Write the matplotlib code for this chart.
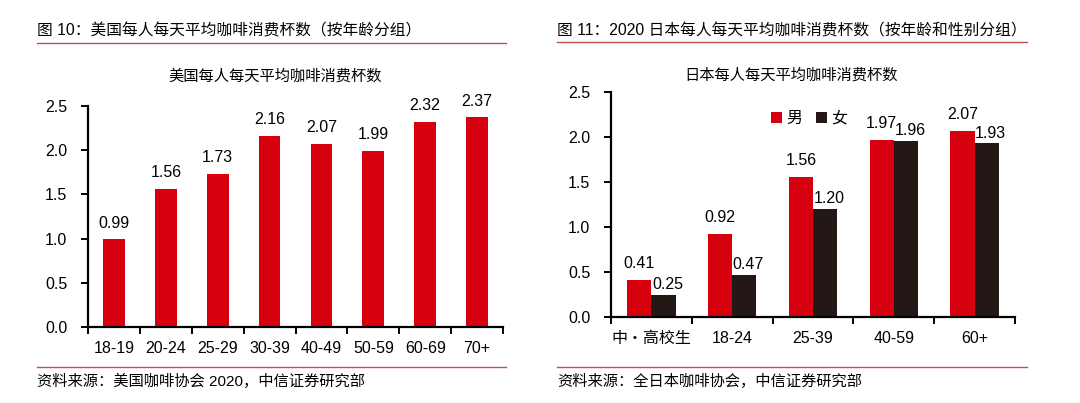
import matplotlib
matplotlib.use('Agg')
import matplotlib.pyplot as plt
import numpy as np

plt.rcParams['font.family'] = ['Liberation Sans', 'Noto Sans CJK SC', 'DejaVu Sans']

# left chart: US
us_ages = ['18-19', '20-24', '25-29', '30-39', '40-49', '50-59', '60-69', '70+']
us_cups = [0.99, 1.56, 1.73, 2.16, 2.07, 1.99, 2.32, 2.37]

# right chart: Japan 2020
jp_ages = ['中・高校生', '18-24', '25-39', '40-59', '60+']
jp_male = [0.41, 0.92, 1.56, 1.97, 2.07]
jp_female = [0.25, 0.47, 1.20, 1.96, 1.93]

RED = '#d7000f'
DARK = '#231815'
LINE = '#c0504d'
FS = 11.5

W, H = 1080, 403
fig = plt.figure(figsize=(W / 100, H / 100), dpi=100)


def px(x0, y_top, x1, y_bot):
    return [x0 / W, 1 - y_bot / H, (x1 - x0) / W, (y_bot - y_top) / H]


def style(ax):
    for s in ['top', 'right']:
        ax.spines[s].set_visible(False)
    for s in ['left', 'bottom']:
        ax.spines[s].set_linewidth(1.6)
        ax.spines[s].set_color('black')
    ax.set_ylim(0, 2.5)
    ax.set_yticks(np.arange(0, 2.51, 0.5))
    ax.set_yticklabels(['%.1f' % v for v in np.arange(0, 2.51, 0.5)])
    ax.tick_params(axis='both', direction='out', width=1.4, length=5, labelsize=FS)
    ax.tick_params(axis='y', pad=10)


# header lines / text
fig.text(37 / W, 1 - 31 / H, '图 10：美国每人每天平均咖啡消费杯数（按年龄分组）', fontsize=11.3, va='center')
fig.text(557 / W, 1 - 31 / H, '图 11：2020 日本每人每天平均咖啡消费杯数（按年龄和性别分组）', fontsize=11.3, va='center')
fig.add_artist(plt.Line2D([37 / W, 506 / W], [1 - 43 / H] * 2, color=LINE, lw=1))
fig.add_artist(plt.Line2D([557 / W, 1027 / W], [1 - 42 / H] * 2, color=LINE, lw=1))
fig.add_artist(plt.Line2D([37 / W, 506 / W], [1 - 367 / H] * 2, color=LINE, lw=1))
fig.add_artist(plt.Line2D([557 / W, 1027 / W], [1 - 367 / H] * 2, color=LINE, lw=1))
fig.text(37 / W, 1 - 381 / H, '资料来源：美国咖啡协会 2020，中信证券研究部', fontsize=11, va='center')
fig.text(557 / W, 1 - 381 / H, '资料来源：全日本咖啡协会，中信证券研究部', fontsize=11, va='center')

# chart titles
fig.text(275 / W, 1 - 76 / H, '美国每人每天平均咖啡消费杯数', fontsize=11, ha='center', va='center')
fig.text(791 / W, 1 - 75 / H, '日本每人每天平均咖啡消费杯数', fontsize=11, ha='center', va='center')

# left chart
ax1 = fig.add_axes(px(88, 106, 503, 327))
x1 = np.arange(len(us_ages))
ax1.bar(x1, us_cups, width=0.42, color=RED)
ax1.set_xlim(-0.5, len(us_ages) - 0.5)
ax1.set_xticks(np.arange(-0.5, len(us_ages), 1))
ax1.set_xticklabels([''] * (len(us_ages) + 1))
ax1.set_xticks(x1, minor=True)
ax1.set_xticklabels(us_ages, minor=True)
ax1.tick_params(axis='x', which='minor', length=0, pad=10, labelsize=FS)
style(ax1)
for xi, v in zip(x1, us_cups):
    ax1.text(xi, v + 0.1, '%.2f' % v, ha='center', va='bottom', fontsize=FS)

# right chart
ax2 = fig.add_axes(px(611, 92, 1015, 317))
x2 = np.arange(len(jp_ages))
bw = 0.3
ax2.bar(x2 - bw / 2, jp_male, width=bw, color=RED, label='男')
ax2.bar(x2 + bw / 2, jp_female, width=bw, color=DARK, label='女')
ax2.set_xlim(-0.5, len(jp_ages) - 0.5)
ax2.set_xticks(np.arange(-0.5, len(jp_ages), 1))
ax2.set_xticklabels([''] * (len(jp_ages) + 1))
ax2.set_xticks(x2, minor=True)
ax2.set_xticklabels(jp_ages, minor=True)
ax2.tick_params(axis='x', which='minor', length=0, pad=10, labelsize=FS)
style(ax2)
for xi, v in zip(x2, jp_male):
    ax2.text(xi - bw / 2, v + 0.1, '%.2f' % v, ha='center', va='bottom', fontsize=FS)
for xi, v in zip(x2, jp_female):
    ax2.text(xi + bw / 2 + 0.05, v + 0.03, '%.2f' % v, ha='center', va='bottom', fontsize=FS)
ax2.legend(loc='upper left', bbox_to_anchor=(0.36, 0.98), ncol=2, frameon=False,
           handlelength=0.7, handleheight=0.7, handletextpad=0.3, columnspacing=0.8,
           fontsize=FS)

fig.savefig('out.png', dpi=100)
